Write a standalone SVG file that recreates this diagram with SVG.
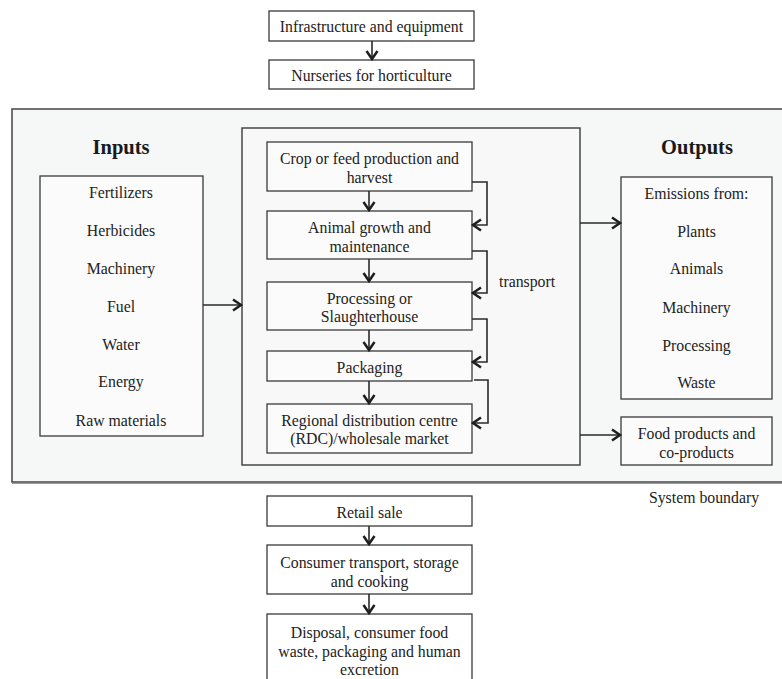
<svg xmlns="http://www.w3.org/2000/svg" width="782" height="679" viewBox="0 0 782 679">
<defs>
<style>
.box{fill:#ffffff;stroke:#3a3a3a;stroke-width:1.3}
.ibox{fill:#fbfbfb;stroke:#3a3a3a;stroke-width:1.3}
.t{font-family:"Liberation Serif","Times New Roman",serif;font-size:15.8px;fill:#222;text-anchor:middle;dominant-baseline:central}
.h{font-family:"Liberation Serif","Times New Roman",serif;font-size:20.5px;font-weight:bold;fill:#1a1a1a;text-anchor:middle;dominant-baseline:central}
.c{fill:none;stroke:#2a2a2a;stroke-width:1.6}
</style>
<marker id="ah" markerUnits="userSpaceOnUse" markerWidth="14" markerHeight="14" viewBox="-10 -7 14 14" refX="0" refY="0" orient="auto">
<path d="M-8,-5.5 L0,0 L-8,5.5" fill="none" stroke="#1e1e1e" stroke-width="2.5" stroke-linejoin="miter"/>
</marker>
</defs>
<rect width="782" height="679" fill="#ffffff"/>

<g id="boundary">
<rect x="12" y="109" width="790" height="373" fill="#f6f7f7" stroke="#444" stroke-width="1.5"/>
<line x1="12" y1="483.5" x2="782" y2="483.5" stroke="#999" stroke-width="1"/>
</g>

<g id="infrastructure">
<rect class="box" x="269" y="11" width="205" height="30"/>
<text class="t" x="371.5" y="26">Infrastructure and equipment</text>
</g>
<g id="nurseries">
<rect class="box" x="269" y="60" width="205" height="29"/>
<text class="t" x="371.5" y="75">Nurseries for horticulture</text>
</g>

<g id="inputs-title"><text class="h" x="121" y="147">Inputs</text></g>
<g id="inputs">
<rect class="ibox" x="40" y="176" width="163" height="260"/>
<text class="t" x="121" y="192">Fertilizers</text>
<text class="t" x="121" y="230">Herbicides</text>
<text class="t" x="121" y="268">Machinery</text>
<text class="t" x="121" y="306">Fuel</text>
<text class="t" x="121" y="344">Water</text>
<text class="t" x="121" y="381">Energy</text>
<text class="t" x="121" y="420">Raw materials</text>
</g>

<g id="central">
<rect x="242" y="128" width="338" height="337" fill="#f8f8f8" stroke="#3a3a3a" stroke-width="1.4"/>
</g>
<g id="crop">
<rect class="ibox" x="267" y="142" width="205" height="49"/>
<text class="t" x="369.5" y="158">Crop or feed production and</text>
<text class="t" x="369.5" y="177">harvest</text>
</g>
<g id="animal">
<rect class="ibox" x="267" y="211" width="205" height="48"/>
<text class="t" x="369.5" y="227">Animal growth and</text>
<text class="t" x="369.5" y="246">maintenance</text>
</g>
<g id="processing">
<rect class="ibox" x="267" y="282" width="205" height="48"/>
<text class="t" x="369.5" y="298">Processing or</text>
<text class="t" x="369.5" y="316">Slaughterhouse</text>
</g>
<g id="packaging">
<rect class="ibox" x="267" y="351" width="205" height="30"/>
<text class="t" x="369.5" y="367">Packaging</text>
</g>
<g id="rdc">
<rect class="ibox" x="267" y="404" width="205" height="49"/>
<text class="t" x="369.5" y="420">Regional distribution centre</text>
<text class="t" x="369.5" y="438">(RDC)/wholesale market</text>
</g>
<g id="transport-label">
<text class="t" x="499" y="281" style="text-anchor:start">transport</text>
</g>

<g id="outputs-title"><text class="h" x="697" y="147">Outputs</text></g>
<g id="emissions">
<rect class="ibox" x="621" y="177" width="151" height="222"/>
<text class="t" x="696.5" y="193">Emissions from:</text>
<text class="t" x="696.5" y="231">Plants</text>
<text class="t" x="696.5" y="268">Animals</text>
<text class="t" x="696.5" y="307">Machinery</text>
<text class="t" x="696.5" y="345">Processing</text>
<text class="t" x="696.5" y="382">Waste</text>
</g>
<g id="food-products">
<rect class="ibox" x="621" y="417" width="151" height="48"/>
<text class="t" x="696.5" y="433">Food products and</text>
<text class="t" x="696.5" y="452">co-products</text>
</g>
<g id="system-boundary-label">
<text class="t" x="704" y="497">System boundary</text>
</g>

<g id="retail">
<rect class="box" x="267" y="496" width="205" height="30"/>
<text class="t" x="369.5" y="512">Retail sale</text>
</g>
<g id="consumer">
<rect class="box" x="267" y="545" width="205" height="49"/>
<text class="t" x="369.5" y="562">Consumer transport, storage</text>
<text class="t" x="369.5" y="581">and cooking</text>
</g>
<g id="disposal">
<rect class="box" x="267" y="614" width="205" height="70"/>
<text class="t" x="369.5" y="632">Disposal, consumer food</text>
<text class="t" x="369.5" y="651">waste, packaging and human</text>
<text class="t" x="369.5" y="669">excretion</text>
</g>

<g id="connectors">
<line class="c" x1="372" y1="41" x2="372" y2="59" marker-end="url(#ah)"/>
<line class="c" x1="369" y1="191" x2="369" y2="210" marker-end="url(#ah)"/>
<line class="c" x1="369" y1="259" x2="369" y2="281" marker-end="url(#ah)"/>
<line class="c" x1="369" y1="330" x2="369" y2="350" marker-end="url(#ah)"/>
<line class="c" x1="369" y1="381" x2="369" y2="403" marker-end="url(#ah)"/>
<path class="c" d="M472,182 H487 V225 H473" marker-end="url(#ah)"/>
<path class="c" d="M472,251 H487 V293 H473" marker-end="url(#ah)"/>
<path class="c" d="M472,319 H487 V362 H473" marker-end="url(#ah)"/>
<path class="c" d="M474,380 H488 V423 H473" marker-end="url(#ah)"/>
<line class="c" x1="203" y1="305" x2="241" y2="305" marker-end="url(#ah)"/>
<line class="c" x1="580" y1="223" x2="620" y2="223" marker-end="url(#ah)"/>
<line class="c" x1="580" y1="435" x2="620" y2="435" marker-end="url(#ah)"/>
<line class="c" x1="369" y1="526" x2="369" y2="544" marker-end="url(#ah)"/>
<line class="c" x1="369" y1="594" x2="369" y2="613" marker-end="url(#ah)"/>
</g>
</svg>
